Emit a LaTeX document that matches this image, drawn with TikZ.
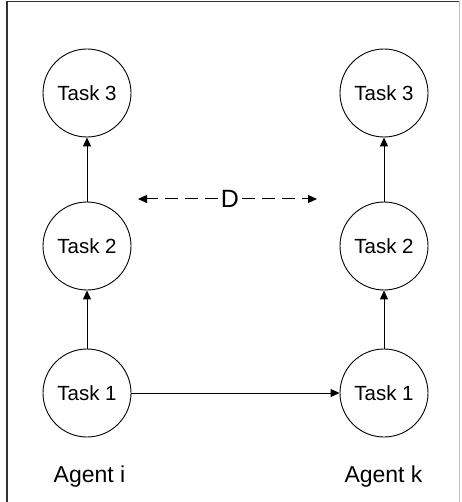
\documentclass[tikz,border=0pt]{standalone}
\usepackage{fontspec}
\setmainfont{Liberation Sans}
\usetikzlibrary{arrows.meta}
\begin{document}
\begin{tikzpicture}[x=1pt,y=-1pt,
  task/.style={draw, circle, minimum size=88pt, inner sep=0pt, line width=0.9pt,
    font=\fontsize{20.5}{22}\selectfont},
  agent/.style={font=\fontsize{23}{25}\selectfont},
  link/.style={line width=1pt, -{Triangle[length=9pt,width=8pt]}},
  gap/.style={line width=1pt, dash pattern=on 13pt off 7pt, -{Triangle[length=9pt,width=8pt]}}]
  \useasboundingbox (0,0) rectangle (461,502);
  % frame
  \draw[black!80, line width=1.2pt] (7,502) -- (7,1.5) -- (459.5,1.5);
  \draw[black!25, line width=0.8pt] (459.5,1.5) -- (459.5,502);
  % left agent
  \node[task] (i3) at (87,93) {Task 3};
  \node[task] (i2) at (87,246) {Task 2};
  \node[task] (i1) at (87,393) {Task 1};
  % right agent
  \node[task] (k3) at (384,93) {Task 3};
  \node[task] (k2) at (384,246) {Task 2};
  \node[task] (k1) at (384,393) {Task 1};
  % agent names
  \node[agent] (ai) at (89.5,477) {Agent i};
  \node[agent] (ak) at (383.5,477) {Agent k};
  % precedence links
  \draw[link] (i1) -- (i2);
  \draw[link] (i2) -- (i3);
  \draw[link] (k1) -- (k2);
  \draw[link] (k2) -- (k3);
  \draw[link] (i1) -- (k1);
  % distance marker
  \node[font=\fontsize{25}{27}\selectfont, inner sep=3pt] (d) at (230,199) {D};
  \coordinate (dl) at (138,199);
  \coordinate (dr) at (317,199);
  \draw[gap] (d) -- (dl);
  \draw[gap] (d) -- (dr);
\end{tikzpicture}
\end{document}
